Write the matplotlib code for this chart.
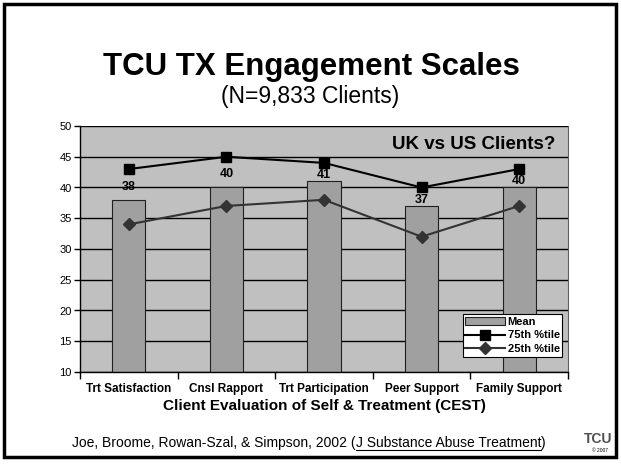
import matplotlib
matplotlib.use("Agg")
import matplotlib.pyplot as plt
from matplotlib.patches import Rectangle
import numpy as np

categories = ["Trt Satisfaction", "Cnsl Rapport", "Trt Participation", "Peer Support", "Family Support"]
mean_vals = [38, 40, 41, 37, 40]
p75_vals = [43, 45, 44, 40, 43]
p25_vals = [34, 37, 38, 32, 37]
y_ticks = [10, 15, 20, 25, 30, 35, 40, 45, 50]
label_offsets = [1.15, 1.3, 0.05, 0.05, 0.15]  # vertical nudge of value labels (data units)

FONT = ["Liberation Sans", "DejaVu Sans"]
plt.rcParams['font.family'] = FONT

fig = plt.figure(figsize=(6.21, 4.65), dpi=100)
W, H = 621, 465

# slide frame
fig.patches.append(Rectangle((4 / W, 1 - 457 / H), 612 / W, 453 / H, transform=fig.transFigure,
                             fill=False, edgecolor="black", linewidth=2.5))

fig.text(311 / W, 1 - 67 / H, "TCU TX Engagement Scales", ha="center", va="center",
         fontsize=22.5, fontweight="bold")
fig.text(310 / W, 1 - 97 / H, "(N=9,833 Clients)", ha="center", va="center",
         fontsize=16.5)

ax = fig.add_axes([80 / W, 1 - 372 / H, 488 / W, 246 / H])
ax.set_facecolor("#C0C0C0")
x = np.arange(len(categories))
ax.set_xlim(-0.5, len(categories) - 0.5)
ax.set_ylim(10, 50)
ax.set_yticks(y_ticks)
ax.yaxis.grid(True, color="black", linewidth=1)
ax.set_axisbelow(True)

bars = ax.bar(x, [m - 10 for m in mean_vals], bottom=10, width=0.34, color="#A0A0A0",
              edgecolor="#202020", linewidth=0.8, label="Mean", zorder=2)
l75, = ax.plot(x, p75_vals, color="black", marker="s", markersize=7, linewidth=1.5,
               label="75th %tile", zorder=3)
l25, = ax.plot(x, p25_vals, color="#333333", marker="D", markersize=6, linewidth=1.5,
               markerfacecolor="#333333", label="25th %tile", zorder=3)

for xi, m, off in zip(x, mean_vals, label_offsets):
    ax.text(xi, m + off, str(m), ha="center", va="bottom", fontsize=9, fontweight="bold", zorder=2.5)

ax.set_xticks(np.arange(-0.5, len(categories) + 0.5, 1))
ax.set_xticklabels([])
ax.tick_params(axis="x", length=5, width=1, direction="out")
ax.tick_params(axis="y", length=4, width=1, labelsize=8, pad=2)
for i, c in enumerate(categories):
    ax.text(i, -0.045, c, transform=ax.get_xaxis_transform(), ha="center", va="top",
            fontsize=8.5, fontweight="bold")
ax.text(0.5, -0.11, "Client Evaluation of Self & Treatment (CEST)", transform=ax.transAxes,
        ha="center", va="top", fontsize=11, fontweight="bold")

for s in ["top", "right"]:
    ax.spines[s].set_visible(False)
ax.spines["left"].set_linewidth(1)
ax.spines["bottom"].set_linewidth(1)
ax.plot([1, 1], [0, 1], transform=ax.transAxes, color="#606060", linewidth=0.8, clip_on=False)

ax.text(0.975, 0.925, "UK vs US Clients?", transform=ax.transAxes, ha="right", va="center",
        fontsize=13.5, fontweight="bold")

leg = ax.legend(handles=[bars, l75, l25], loc="lower right", bbox_to_anchor=(1.0, 0.04),
                frameon=True, fancybox=False, edgecolor="black", framealpha=1, borderpad=0.25,
                labelspacing=0.3, handlelength=3.6, handletextpad=0.2,
                prop={"weight": "bold", "size": 8})
leg.get_frame().set_linewidth(0.8)

# footer with underlined journal name
fig.canvas.draw()
r = fig.canvas.get_renderer()
parts = ["Joe, Broome, Rowan-Szal, & Simpson, 2002 (", "J Substance Abuse Treatment", ")"]
fy = 1 - 443 / H
texts = []
for p in parts:
    texts.append(fig.text(0, fy, p, ha="left", va="center", fontsize=10))
widths = [t.get_window_extent(r).width for t in texts]
total = sum(widths)
start = 309 - total / 2
cur = start
for t, w in zip(texts, widths):
    t.set_x(cur / W)
    cur += w
ux0 = start + widths[0]
ux1 = ux0 + widths[1]
fig.add_artist(plt.Line2D([ux0 / W, ux1 / W], [1 - 450 / H, 1 - 450 / H], transform=fig.transFigure,
                          color="black", linewidth=0.8))

# logo
fig.text(598 / W, 1 - 439 / H, "TCU", ha="center", va="center", fontsize=10, fontweight="bold",
         color="#505050")
fig.text(600 / W, 1 - 450 / H, "© 2007", ha="center", va="center", fontsize=3.5)

fig.savefig("out.png", dpi=100)
